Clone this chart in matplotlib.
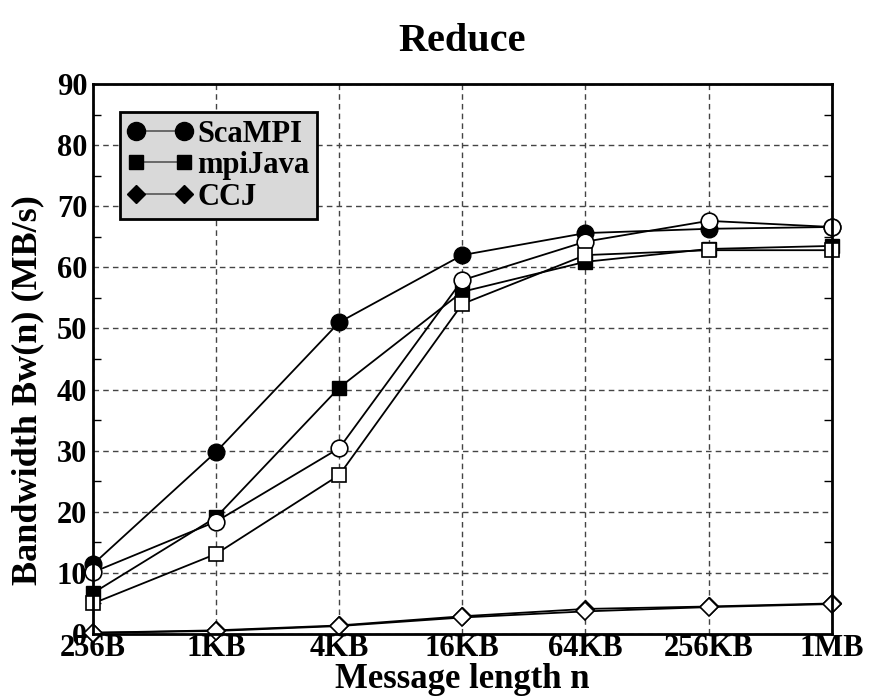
import matplotlib
matplotlib.use("Agg")
import matplotlib.pyplot as plt
from matplotlib.ticker import MultipleLocator
from matplotlib.lines import Line2D

# Message sizes (tick labels) and measured bandwidth in MB/s
sizes = ["256B", "1KB", "4KB", "16KB", "64KB", "256KB", "1MB"]

scampi = [11.4, 29.8, 51.0, 62.0, 65.6, 66.3, 66.6]
mpijava = [6.7, 19.1, 40.3, 56.0, 60.9, 63.0, 63.5]
ccj = [0.2, 0.6, 1.4, 2.9, 4.1, 4.5, 5.0]

scampi_b = [10.1, 18.4, 30.4, 57.9, 64.2, 67.6, 66.6]
mpijava_b = [5.0, 13.1, 26.0, 54.0, 62.0, 62.8, 62.8]
ccj_b = [0.2, 0.5, 1.3, 2.7, 3.7, 4.4, 4.9]

plt.rcParams["font.family"] = ["Liberation Serif", "DejaVu Serif"]
plt.rcParams["font.weight"] = "bold"

fig = plt.figure(figsize=(8.69, 6.98), dpi=100)
ax = fig.add_axes([0.107, 0.0917, 0.850, 0.788])

x = list(range(len(sizes)))
line_kw = dict(color="black", lw=1.3, clip_on=False, zorder=3)

# filled markers
ax.plot(x, scampi, marker="o", ms=12, mfc="black", mec="black", **line_kw)
ax.plot(x, mpijava, marker="s", ms=10, mfc="black", mec="black", **line_kw)
ax.plot(x, ccj, marker="D", ms=9, mfc="black", mec="black", **line_kw)

# open markers
open_kw = dict(color="black", lw=1.3, clip_on=False, zorder=4, mfc="white", mec="black", mew=1.2)
ax.plot(x, scampi_b, marker="o", ms=12, **open_kw)
ax.plot(x, mpijava_b, marker="s", ms=10, **open_kw)
ax.plot(x, ccj_b, marker="D", ms=9, **open_kw)

ax.set_xlim(0, len(sizes) - 1)
ax.set_ylim(0, 90)
ax.set_xticks(x)
ax.set_xticklabels(sizes)
ax.yaxis.set_major_locator(MultipleLocator(10))
ax.yaxis.set_minor_locator(MultipleLocator(5))

ax.tick_params(axis="both", which="both", direction="in", labelsize=22)
ax.tick_params(axis="x", length=0, pad=0)
ax.tick_params(axis="y", which="major", length=0, pad=4)
ax.tick_params(axis="y", which="minor", length=6, width=1, right=True, left=True)

ax.grid(True, which="major", linestyle=(0, (4, 3)), color="#444444", lw=1.0)
ax.set_axisbelow(True)

for s in ax.spines.values():
    s.set_linewidth(2)
    s.set_zorder(5)

ax.set_xlabel("Message length n", fontsize=25, fontweight="bold")
ax.xaxis.set_label_coords(0.5, -0.052, transform=ax.transAxes)
ax.xaxis.label.set_verticalalignment("top")
ax.set_ylabel("Bandwidth Bw(n) (MB/s)", fontsize=26, fontweight="bold")
ax.yaxis.set_label_coords(-0.088, 0.444, transform=ax.transAxes)
ax.yaxis.label.set_verticalalignment("center")
ax.set_title("Reduce", fontsize=29, fontweight="bold", pad=24)

handles = [
    Line2D([], [], color="#555555", lw=1.2, marker="o", ms=13, mfc="black", mec="black"),
    Line2D([], [], color="#555555", lw=1.2, marker="s", ms=10, mfc="black", mec="black"),
    Line2D([], [], color="#555555", lw=1.2, marker="D", ms=9, mfc="black", mec="black"),
]
leg = ax.legend(handles, ["ScaMPI", "mpiJava", "CCJ"], loc="upper left",
                bbox_to_anchor=(0.036, 0.949), numpoints=2,
                handlelength=2.15, handletextpad=0.15, labelspacing=0.08,
                borderpad=0.25, borderaxespad=0, fancybox=False, framealpha=1,
                prop={"weight": "bold", "size": 22})
leg.get_frame().set_facecolor("#d9d9d9")
leg.get_frame().set_edgecolor("black")
leg.get_frame().set_linewidth(2)
leg.set_zorder(6)

fig.savefig("out.png", dpi=100)
